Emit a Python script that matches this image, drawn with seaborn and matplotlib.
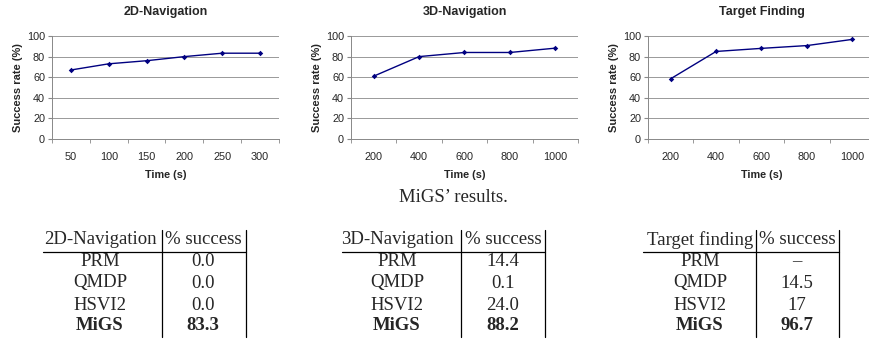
import pandas as pd
import matplotlib
matplotlib.use("Agg")
import matplotlib.pyplot as plt
import seaborn as sns

# Zeitreihen der drei Szenarien
nav2d_time = [50, 100, 150, 200, 250, 300]
nav2d_rate = [67, 73, 76, 80, 83.3, 83.3]
nav3d_time = [200, 400, 600, 800, 1000]
nav3d_rate = [61, 80, 84, 84, 88.2]
target_time = [200, 400, 600, 800, 1000]
target_rate = [58.5, 85, 88, 90.7, 96.7]

# Tabellen
methods = ["PRM", "QMDP", "HSVI2", "MiGS"]
nav2d_success = ["0.0", "0.0", "0.0", "83.3"]
nav3d_success = ["14.4", "0.1", "24.0", "88.2"]
target_success = ["\u2013", "14.5", "17", "96.7"]

sns.set_style("white")
plt.rcParams["font.family"] = ["Liberation Sans", "DejaVu Sans"]

fig = plt.figure(figsize=(8.7, 3.41), dpi=100)
W, H = 870.0, 341.0

def panel(left_px, title, xs, ys, step):
    ax = fig.add_axes([left_px / W, 1 - 139 / H, 227 / W, 103 / H])
    df = pd.DataFrame({"Time": xs, "Rate": ys})
    sns.lineplot(data=df, x="Time", y="Rate", ax=ax, color="#000080",
                 marker="D", markersize=2.8, markeredgewidth=0, linewidth=1.0)
    ax.set_xlim(xs[0] - step / 2, xs[-1] + step / 2)
    ax.set_ylim(0, 100)
    ax.set_yticks([0, 20, 40, 60, 80, 100])
    ax.set_xticks(xs)
    ax.set_xticks([x - step / 2 for x in xs] + [xs[-1] + step / 2], minor=True)
    ax.tick_params(axis="x", which="major", length=0, labelsize=7.8, pad=9)
    ax.tick_params(axis="x", which="minor", length=3, color="#888888", direction="out", bottom=True)
    ax.tick_params(axis="y", length=3, color="#888888", direction="out", labelsize=7.8, pad=2, left=True)
    for y in [20, 40, 60, 80, 100]:
        ax.axhline(y, color="#999999", linewidth=0.7, zorder=0)
    for s in ["top", "right"]:
        ax.spines[s].set_visible(False)
    for s in ["left", "bottom"]:
        ax.spines[s].set_color("#888888")
        ax.spines[s].set_linewidth(0.7)
    ax.set_title(title, fontsize=9, fontweight="bold", pad=15)
    ax.set_xlabel("Time (s)", fontsize=7.8, fontweight="bold", labelpad=6)
    ax.set_ylabel("Success rate (%)", fontsize=8, fontweight="bold", labelpad=3)
    return ax

panel(52, "2D-Navigation", nav2d_time, nav2d_rate, 50)
panel(351, "3D-Navigation", nav3d_time, nav3d_rate, 200)
panel(648, "Target Finding", target_time, target_rate, 200)

serif = ["Liberation Serif", "DejaVu Serif"]
fs = 13.5
fig.text(453 / W, 1 - 198 / H, "MiGS\u2019 results.", ha="center", va="center",
         fontsize=fs, family=serif)

def table(x_left, x_mid, x_right, c1, c2, header, values):
    fy = lambda y: 1 - y / H
    fig.text(c1 / W, fy(240), header, ha="center", va="center", fontsize=fs, family=serif)
    fig.text(c2 / W, fy(240), "% success", ha="center", va="center", fontsize=fs, family=serif)
    rows_y = [262, 283, 305, 325]
    for m, v, y in zip(methods, values, rows_y):
        w = "bold" if m == "MiGS" else "normal"
        fig.text(c1 / W, fy(y), m, ha="center", va="center", fontsize=fs, family=serif, fontweight=w)
        fig.text(c2 / W, fy(y), v, ha="center", va="center", fontsize=fs, family=serif, fontweight=w)
    fig.add_artist(plt.Line2D([x_left / W, x_right / W], [fy(252), fy(252)], color="black", lw=0.9))
    for x in (x_mid, x_right):
        fig.add_artist(plt.Line2D([x / W, x / W], [fy(230), fy(337)], color="black", lw=0.9))

table(43, 162, 246, 100, 203, "2D-Navigation", nav2d_success)
table(342, 461, 545, 397, 503, "3D-Navigation", nav3d_success)
table(643, 756, 839, 700, 797, "Target finding", target_success)

fig.savefig("out.png", dpi=100)
